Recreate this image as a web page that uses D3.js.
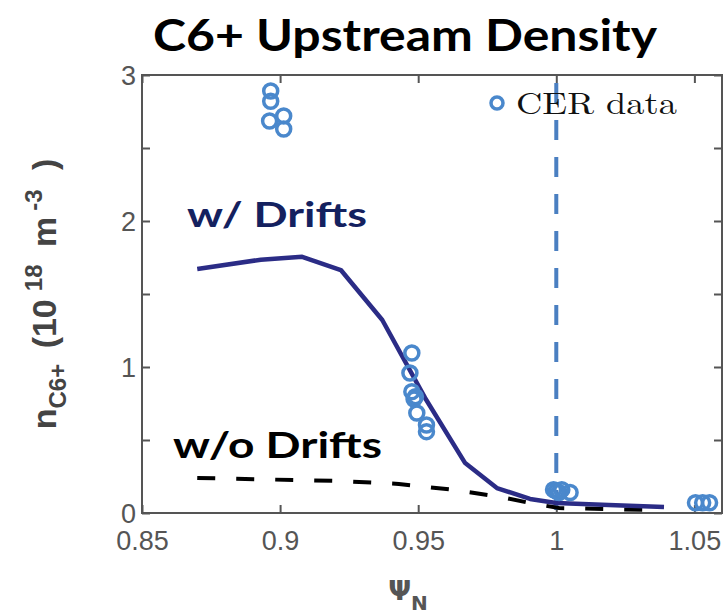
<!DOCTYPE html>
<html><head><meta charset="utf-8">
<script src="https://cdn.jsdelivr.net/npm/d3@7"></script>
<style>html,body{margin:0;padding:0;background:#fff;}</style>
</head><body>
<svg id="chart" width="725" height="616"></svg>
<script>
// ---- data ----
const title = "C6+ Upstream Density";
const xTicks = [0.85, 0.9, 0.95, 1, 1.05];
const xTickLabels = ["0.85", "0.9", "0.95", "1", "1.05"];
const yTicks = [0, 0.5, 1, 1.5, 2, 2.5, 3];
const yTickLabels = ["0", "", "1", "", "2", "", "3"];
const withDriftsPsi = [0.870, 0.893, 0.908, 0.922, 0.937, 0.9525, 0.967, 0.9785, 0.9905, 1.000, 1.019, 1.039];
const withDriftsN   = [1.671, 1.735, 1.755, 1.664, 1.322, 0.788, 0.342, 0.171, 0.096, 0.068, 0.055, 0.041];
const noDriftsPsi = [0.870, 0.922, 0.943, 0.963, 0.980, 0.9905, 1.001, 1.034];
const noDriftsN   = [0.240, 0.219, 0.199, 0.158, 0.110, 0.068, 0.034, 0.021];
const cerPsi = [0.8966, 0.8966, 0.8962, 0.9013, 0.9013,
                0.9477, 0.9470, 0.9477, 0.9490, 0.9485, 0.9495, 0.9530, 0.9530,
                0.9990, 1.0000, 1.0010, 1.0020, 1.0050,
                1.0504, 1.0530, 1.0555];
const cerN   = [2.89, 2.82, 2.685, 2.72, 2.63,
                1.096, 0.959, 0.831, 0.797, 0.78, 0.685, 0.603, 0.557,
                0.16, 0.15, 0.14, 0.16, 0.14,
                0.07, 0.07, 0.07];
const separatrixPsi = 1.0;

// ---- chart ----
const svg = d3.select("#chart");
const x = d3.scaleLinear().domain([0.85, 1.06]).range([142, 722]);
const y = d3.scaleLinear().domain([0, 3]).range([513, 75]);
const axisCol = "#555";

// frame
svg.append("rect").attr("x", x(0.85)).attr("y", y(3))
  .attr("width", x(1.06) - x(0.85)).attr("height", y(0) - y(3))
  .attr("fill", "none").attr("stroke", axisCol).attr("stroke-width", 2);

// axes (ticks inside)
const xb = svg.append("g").attr("transform", `translate(0,${y(0)})`)
  .call(d3.axisBottom(x).tickValues(xTicks).tickSizeInner(-8).tickSizeOuter(0)
    .tickPadding(18).tickFormat((d, i) => xTickLabels[i]));
const xt = svg.append("g").attr("transform", `translate(0,${y(3)})`)
  .call(d3.axisTop(x).tickValues(xTicks).tickSizeInner(-8).tickSizeOuter(0).tickFormat(""));
const yl = svg.append("g").attr("transform", `translate(${x(0.85)},0)`)
  .call(d3.axisLeft(y).tickValues(yTicks).tickSizeInner(-8).tickSizeOuter(0)
    .tickPadding(6).tickFormat((d, i) => yTickLabels[i]));
const yr = svg.append("g").attr("transform", `translate(${x(1.06)},0)`)
  .call(d3.axisRight(y).tickValues(yTicks).tickSizeInner(-8).tickSizeOuter(0).tickFormat(""));
[xb, xt, yl, yr].forEach(g => {
  g.select(".domain").remove();
  g.selectAll(".tick line").attr("stroke", axisCol).attr("stroke-width", 2);
  g.selectAll(".tick text").attr("fill", "#555")
    .style("font-family", "'Liberation Sans', Arial, sans-serif").style("font-size", "27px");
});
xb.selectAll(".tick text").attr("dy", "0.71em");
yl.selectAll(".tick text").attr("dy", "0.36em");

// separatrix dashed line
svg.append("line").attr("x1", x(separatrixPsi)).attr("x2", x(separatrixPsi))
  .attr("y1", y(3)).attr("y2", y(0))
  .attr("stroke", "#4a7fc1").attr("stroke-width", 4)
  .attr("stroke-dasharray", "20,17").attr("stroke-dashoffset", "-8");

// no-drift dashed line
const line = d3.line().x(d => x(d[0])).y(d => y(d[1]));
svg.append("path").datum(noDriftsPsi.map((p, i) => [p, noDriftsN[i]]))
  .attr("d", line).attr("fill", "none").attr("stroke", "#000")
  .attr("stroke-width", 4).attr("stroke-dasharray", "18,21");

// with-drifts line
svg.append("path").datum(withDriftsPsi.map((p, i) => [p, withDriftsN[i]]))
  .attr("d", line).attr("fill", "none").attr("stroke", "#2b2c86")
  .attr("stroke-width", 4.5).attr("stroke-linejoin", "round");

// CER data
svg.append("g").selectAll("circle").data(cerPsi.map((p, i) => [p, cerN[i]]))
  .join("circle").attr("cx", d => x(d[0])).attr("cy", d => y(d[1])).attr("r", 7)
  .attr("fill", "none").attr("stroke", "#4a88cc").attr("stroke-width", 3.5);

// legend
svg.append("circle").attr("cx", 497).attr("cy", 103).attr("r", 6)
  .attr("fill", "none").attr("stroke", "#4a88cc").attr("stroke-width", 3.5);
svg.append("text").attr("x", 516).attr("y", 114).text("CER data")
  .attr("textLength", 161).attr("lengthAdjust", "spacingAndGlyphs")
  .style("font-family", "'Latin Modern Roman','Liberation Serif','Times New Roman',serif")
  .style("font-size", "31px").attr("fill", "#111");

// annotations
svg.append("text").attr("x", 187).attr("y", 227).text("w/ Drifts")
  .attr("textLength", 180).attr("lengthAdjust", "spacingAndGlyphs")
  .style("font-family", "Lato, 'Open Sans', sans-serif").style("font-weight", 700)
  .style("font-size", "35px").attr("fill", "#14215f");
svg.append("text").attr("x", 173).attr("y", 458).text("w/o Drifts")
  .attr("textLength", 209).attr("lengthAdjust", "spacingAndGlyphs")
  .style("font-family", "Lato, 'Open Sans', sans-serif").style("font-weight", 700)
  .style("font-size", "36px").attr("fill", "#000");

// title
svg.append("text").attr("x", 153).attr("y", 51).text(title)
  .attr("textLength", 504).attr("lengthAdjust", "spacingAndGlyphs")
  .style("font-family", "Lato, 'Open Sans', sans-serif").style("font-weight", 700)
  .style("font-size", "44px").attr("fill", "#000");

// y-axis title
const yt = svg.append("text").attr("transform", "translate(56,294) rotate(-90)")
  .attr("text-anchor", "middle").attr("fill", "#444")
  .style("font-family", "'Liberation Sans', Arial, sans-serif")
  .style("font-weight", 700).style("font-size", "34px");
yt.append("tspan").text("n");
yt.append("tspan").attr("dy", 10).style("font-size", "24px").text("C6+");
yt.append("tspan").attr("dy", -10).attr("dx", 6).text("  (10");
yt.append("tspan").attr("dy", -14).attr("dx", 8).style("font-size", "24px").text("18");
yt.append("tspan").attr("dy", 14).attr("dx", 8).text(" m");
yt.append("tspan").attr("dy", -14).attr("dx", 6).style("font-size", "24px").text("-3");
yt.append("tspan").attr("dy", 14).attr("dx", 10).text(" )");

// x-axis title
const xtl = svg.append("text").attr("x", 408).attr("y", 600).attr("text-anchor", "middle")
  .attr("fill", "#555").style("font-family", "'DejaVu Sans', sans-serif")
  .style("font-weight", 700).style("font-size", "27px");
xtl.append("tspan").text("Ψ");
xtl.append("tspan").attr("dy", 10).style("font-size", "20px").text("N");
</script>
</body></html>
